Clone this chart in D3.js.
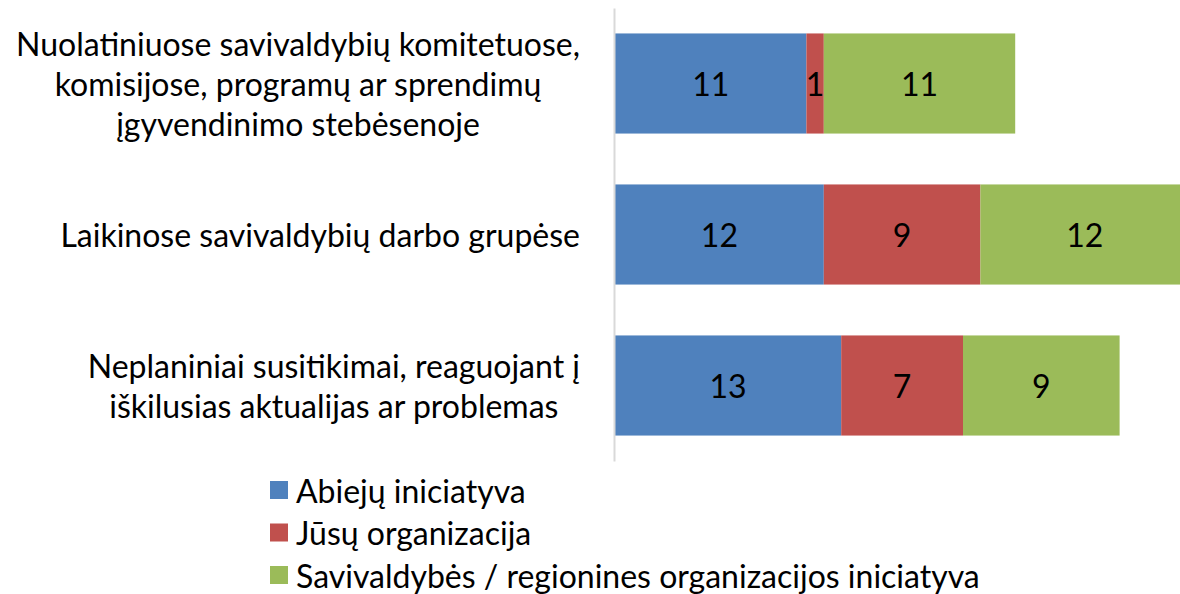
<!DOCTYPE html>
<html>
<head>
<meta charset="utf-8">
<script src="https://cdn.jsdelivr.net/npm/d3@7"></script>
<style>
  body { margin: 0; background: #fff; }
  text { font-family: Lato, "Open Sans", sans-serif; fill: #000; }
</style>
</head>
<body>
<div id="chart"></div>
<script>
// categories (each one split into the lines shown in the chart)
const categories = [
    ["Nuolatiniuose savivaldybių komitetuose,", "komisijose, programų ar sprendimų", "įgyvendinimo stebėsenoje"],
    ["Laikinose savivaldybių darbo grupėse"],
    ["Neplaniniai susitikimai, reaguojant į", "iškilusias aktualijas ar problemas"]
];
const seriesNames = ["Abiejų iniciatyva", "Jūsų organizacija", "Savivaldybės / regionines organizacijos iniciatyva"];
const abieju = [11, 12, 13];
const jusu = [1, 9, 7];
const savivaldybes = [11, 12, 9];
const colors = ["#4f81bd", "#c0504d", "#9bbb59"];

const width = 1180, height = 594;
const fontSize = 32;

const svg = d3.select("#chart")
    .append("svg")
    .attr("width", width)
    .attr("height", height);

const rows = categories.map((c, i) => ({
    key: i,
    label: c,
    values: [abieju[i], jusu[i], savivaldybes[i]]
}));

const x = d3.scaleLinear()
    .domain([0, 35])
    .range([615, 615 + 35 * 17.4]);

const y = d3.scaleBand()
    .domain(rows.map(d => d.key))
    .range([8, 461])
    .paddingInner(0.337)
    .paddingOuter(0.1685);

// stacked segments
const stack = d3.stack()
    .keys([0, 1, 2])
    .value((d, k) => d.values[k]);
const layers = stack(rows);

const g = svg.append("g");
layers.forEach((layer, k) => {
    g.selectAll(null)
        .data(layer)
        .join("rect")
        .attr("x", d => x(d[0]))
        .attr("y", d => y(d.data.key))
        .attr("width", d => x(d[1]) - x(d[0]))
        .attr("height", y.bandwidth())
        .attr("fill", colors[k]);

    g.selectAll(null)
        .data(layer)
        .join("text")
        .attr("x", d => (x(d[0]) + x(d[1])) / 2)
        .attr("y", d => y(d.data.key) + y.bandwidth() / 2)
        .attr("text-anchor", "middle")
        .attr("dominant-baseline", "central")
        .style("font-size", fontSize + "px")
        .text(d => d.data.values[k]);
});

// vertical axis line
svg.append("g")
    .attr("transform", "translate(614,0)")
    .call(d3.axisLeft(y).tickSize(0).tickFormat(""))
    .call(a => a.select(".domain").attr("stroke", "#d9d9d9").attr("stroke-width", 2));

// category labels, right edge at 580, lines centred in their block
const lineH = 40;
rows.forEach(r => {
    const grp = svg.append("g");
    const texts = grp.selectAll("text")
        .data(r.label)
        .join("text")
        .style("font-size", fontSize + "px")
        .attr("text-anchor", "middle")
        .attr("dominant-baseline", "central")
        .text(d => d);
    let maxW = 0;
    texts.each(function () { maxW = Math.max(maxW, this.getComputedTextLength()); });
    const cx = 580 - maxW / 2;
    const cy = y(r.key) + y.bandwidth() / 2;
    const n = r.label.length;
    texts.attr("x", cx)
        .attr("y", (d, i) => cy + (i - (n - 1) / 2) * lineH);
});

// legend
const legend = svg.append("g")
    .selectAll("g")
    .data(seriesNames)
    .join("g")
    .attr("transform", (d, i) => `translate(270, ${490 + i * 42.5})`);

legend.append("rect")
    .attr("x", 0)
    .attr("y", -9)
    .attr("width", 18)
    .attr("height", 18)
    .attr("fill", (d, i) => colors[i]);

legend.append("text")
    .attr("x", 26)
    .attr("y", 0)
    .attr("dominant-baseline", "central")
    .style("font-size", fontSize + "px")
    .text(d => d);
</script>
</body>
</html>
